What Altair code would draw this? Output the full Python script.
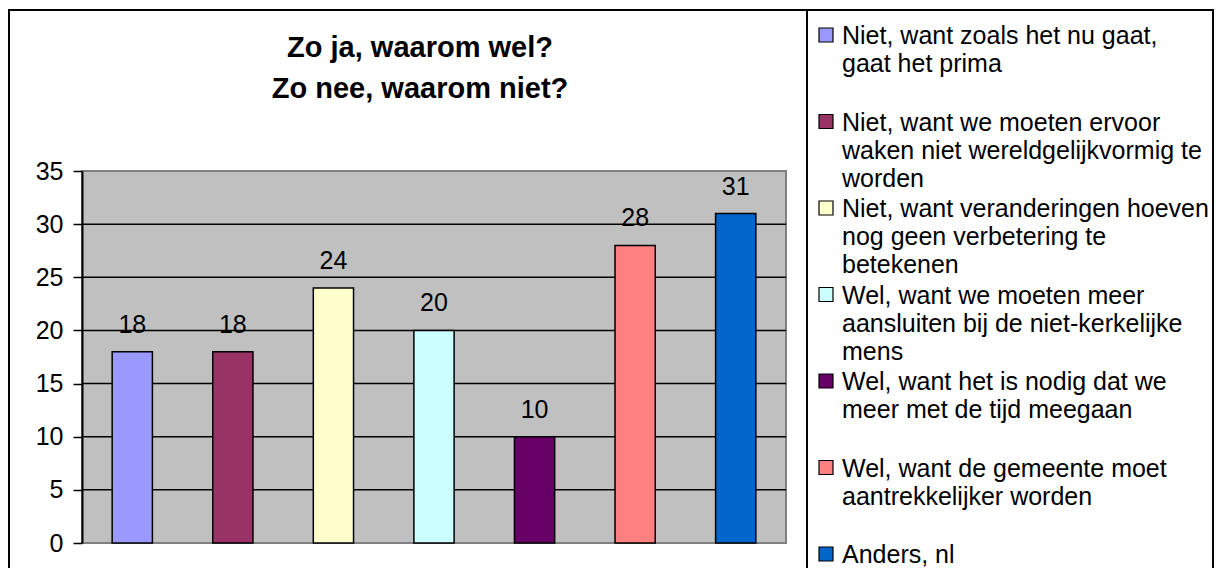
import altair as alt
import pandas as pd

# ---- data ----
categories = [
    "Niet, want zoals het nu gaat, gaat het prima",
    "Niet, want we moeten ervoor waken niet wereldgelijkvormig te worden",
    "Niet, want veranderingen hoeven nog geen verbetering te betekenen",
    "Wel, want we moeten meer aansluiten bij de niet-kerkelijke mens",
    "Wel, want het is nodig dat we meer met de tijd meegaan",
    "Wel, want de gemeente moet aantrekkelijker worden",
    "Anders, nl",
]
legend_labels = [
    "Niet, want zoals het nu gaat,\ngaat het prima",
    "Niet, want we moeten ervoor\nwaken niet wereldgelijkvormig te\nworden",
    "Niet, want veranderingen hoeven\nnog geen verbetering te\nbetekenen",
    "Wel, want we moeten meer\naansluiten bij de niet-kerkelijke\nmens",
    "Wel, want het is nodig dat we\nmeer met de tijd meegaan",
    "Wel, want de gemeente moet\naantrekkelijker worden",
    "Anders, nl",
]
values = [18, 18, 24, 20, 10, 28, 31]
colors = ["#9999FF", "#993366", "#FFFFCC", "#CCFFFF", "#660066", "#FF8080", "#0066CC"]
y_ticks = [0, 5, 10, 15, 20, 25, 30, 35]
grid_values = [5, 10, 15, 20, 25, 30]
title_lines = ["Zo ja, waarom wel?", "Zo nee, waarom niet?"]

FONT = "Liberation Sans"

df = pd.DataFrame({
    "idx": list(range(len(categories))),
    "cat": categories,
    "label": legend_labels,
    "value": values,
})
grid_df = pd.DataFrame({"g": grid_values})

color_scale = alt.Scale(domain=categories, range=colors)
x_enc = alt.X("idx:O", axis=None,
              scale=alt.Scale(paddingInner=0.6, paddingOuter=0.3))
y_scale = alt.Scale(domain=[0, 35], nice=False, zero=True)

base = alt.Chart(df)

grid = alt.Chart(grid_df).mark_rule(color="black", strokeWidth=1.5).encode(
    y=alt.Y("g:Q", scale=y_scale, axis=None),
)

bars = base.mark_bar(stroke="black", strokeWidth=1.5).encode(
    x=x_enc,
    y=alt.Y("value:Q", scale=y_scale, title=None,
            axis=alt.Axis(values=y_ticks, labelFont=FONT, labelFontSize=25,
                          labelColor="black", labelPadding=10,
                          tickSize=9, tickColor="black", tickWidth=1.5,
                          domainColor="black", domainWidth=2, grid=False)),
    color=alt.Color("cat:N", scale=color_scale, legend=None),
)

labels = base.mark_text(font=FONT, fontSize=25, color="black",
                        baseline="alphabetic", dy=-19).encode(
    x=x_enc,
    y=alt.Y("value:Q", scale=y_scale, axis=None),
    text=alt.Text("value:Q"),
)

legend_y = alt.Y("idx:Q", axis=None, title=None,
                 scale=alt.Scale(domain=[0, 6], range=[-136, 383], zero=False, nice=False))

legend_sq = base.mark_point(shape="square", filled=True, size=196,
                            stroke="black", strokeWidth=1.2, opacity=1).encode(
    x=alt.value(744),
    y=legend_y,
    fill=alt.Fill("cat:N", scale=color_scale, legend=None),
)

legend_txt = base.mark_text(font=FONT, fontSize=25, color="black", align="left",
                            baseline="alphabetic", dy=9, lineBreak="\n",
                            lineHeight=28).encode(
    x=alt.value(760),
    y=legend_y,
    text="label:N",
)

one = pd.DataFrame({"k": [0]})
frame_left = alt.Chart(one).mark_rule(color="black", strokeWidth=2).encode(
    x=alt.value(-73), y=alt.value(-161), y2=alt.value(420))
frame_top = alt.Chart(one).mark_rule(color="black", strokeWidth=2).encode(
    x=alt.value(-74), x2=alt.value(1132), y=alt.value(-161))
frame_right = alt.Chart(one).mark_rule(color="black", strokeWidth=2).encode(
    x=alt.value(1131), y=alt.value(-161), y2=alt.value(420))
frame_legend = alt.Chart(one).mark_rule(color="black", strokeWidth=2).encode(
    x=alt.value(725), y=alt.value(-161), y2=alt.value(420))

chart = alt.layer(
    grid, bars, labels, legend_sq, legend_txt,
    frame_left, frame_top, frame_right, frame_legend,
).resolve_scale(
    y="independent"
).properties(
    width=704,
    height=372,
    autosize=alt.AutoSizeParams(type="none"),
    padding={"left": 74, "top": 163, "right": 428, "bottom": 25},
    title=alt.Title(title_lines, font=FONT, fontSize=29, fontWeight="bold",
                    color="black", anchor="middle", frame="group",
                    baseline="bottom", lineHeight=41, offset=-124, dx=-14),
).configure(background="white").configure_view(
    stroke="#808080", strokeWidth=2, fill="#C0C0C0"
)

chart.save("out.html", embed_options={"renderer": "svg", "actions": False})
